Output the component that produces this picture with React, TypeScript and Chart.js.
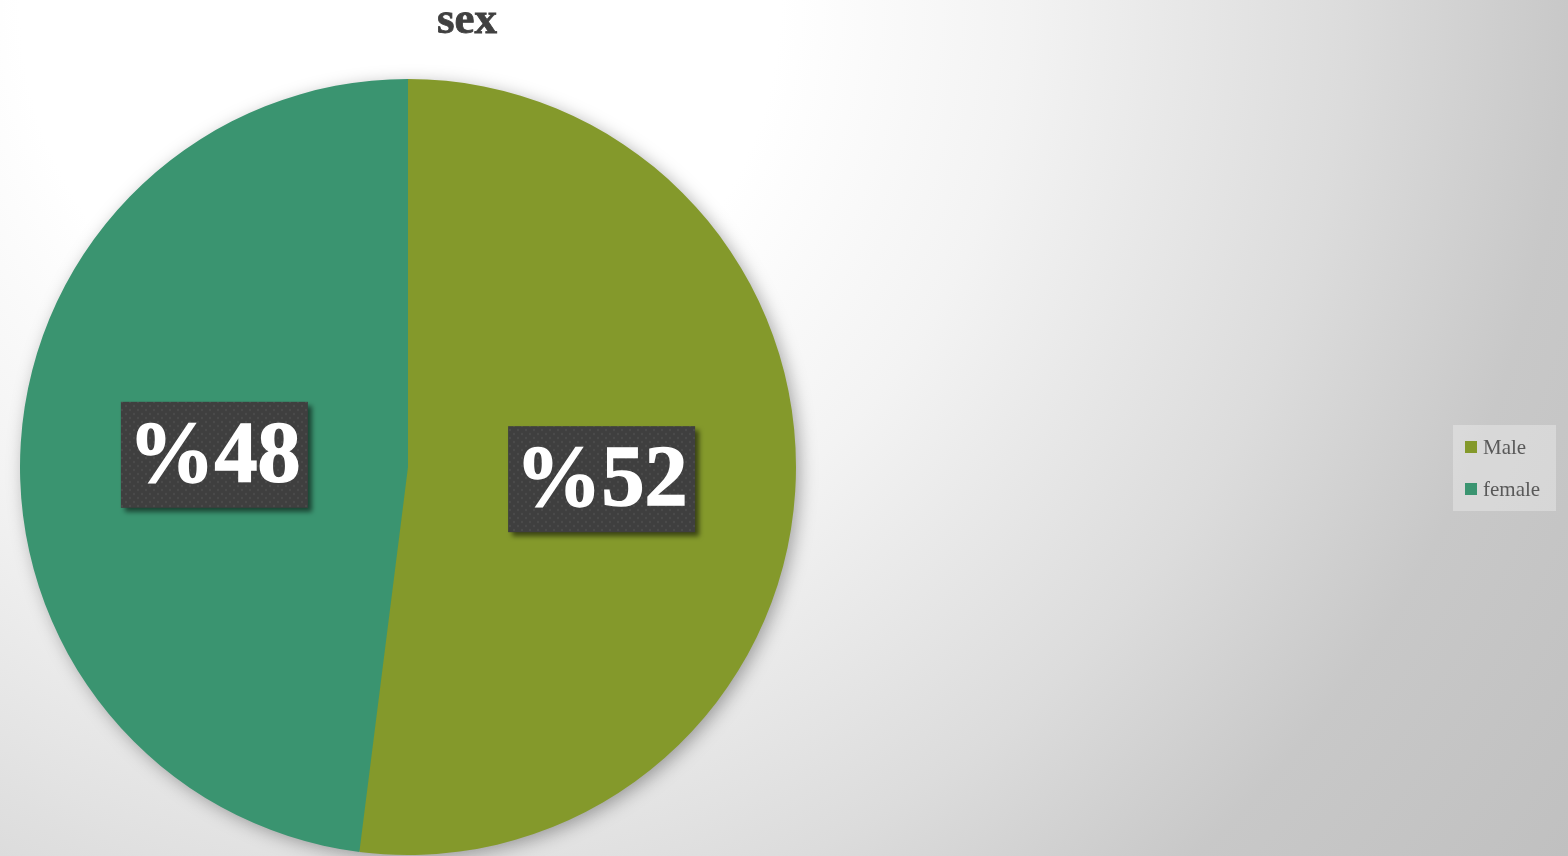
import React, { useEffect, useRef } from "react";
import { Chart, registerables } from "chart.js";

Chart.register(...registerables);

const categories = ["Male", "female"];
const values = [52, 48];
const valueLabels = ["%52", "%48"];
const colors = ["#84992B", "#3A9470"];
const titleText = "sex";

const W = 1568;
const H = 856;

export default function App() {
  const ref = useRef<HTMLCanvasElement | null>(null);

  useEffect(() => {
    const canvas = ref.current;
    if (!canvas) return;

    const pc = document.createElement("canvas");
    pc.width = 8;
    pc.height = 8;
    const pctx = pc.getContext("2d")!;
    pctx.fillStyle = "#3f3f3f";
    pctx.fillRect(0, 0, 8, 8);
    pctx.fillStyle = "#4b4b4b";
    pctx.beginPath();
    pctx.arc(2, 2, 1.2, 0, Math.PI * 2);
    pctx.fill();
    pctx.beginPath();
    pctx.arc(6, 6, 1.2, 0, Math.PI * 2);
    pctx.fill();

    const decor = {
      id: "decor",
      beforeDatasetsDraw(chart: any) {
        const meta = chart.getDatasetMeta(0);
        const arc = meta.data[0];
        if (!arc) return;
        const { x, y, outerRadius } = arc.getProps(["x", "y", "outerRadius"], true);
        const ctx = chart.ctx;
        ctx.save();
        ctx.shadowColor = "rgba(0,0,0,0.35)";
        ctx.shadowBlur = 18;
        ctx.shadowOffsetX = 4;
        ctx.shadowOffsetY = 4;
        ctx.fillStyle = colors[0];
        ctx.beginPath();
        ctx.arc(x, y, outerRadius - 1, 0, Math.PI * 2);
        ctx.fill();
        ctx.restore();
      },
      afterDatasetsDraw(chart: any) {
        const ctx = chart.ctx;
        const meta = chart.getDatasetMeta(0);
        const pattern = ctx.createPattern(pc, "repeat");
        meta.data.forEach((el: any, i: number) => {
          const p = el.getCenterPoint();
          const bw = 187;
          const bh = 106;
          ctx.save();
          ctx.shadowColor = "rgba(0,0,0,0.55)";
          ctx.shadowBlur = 5;
          ctx.shadowOffsetX = 4;
          ctx.shadowOffsetY = 4;
          ctx.fillStyle = pattern || "#404040";
          ctx.fillRect(p.x - bw / 2, p.y - bh / 2, bw, bh);
          ctx.restore();
          ctx.save();
          ctx.fillStyle = "#ffffff";
          ctx.strokeStyle = "#ffffff";
          ctx.lineWidth = 1.5;
          ctx.font = "bold 86px 'Liberation Serif', 'Times New Roman', serif";
          ctx.textAlign = "center";
          ctx.textBaseline = "middle";
          ctx.fillText(valueLabels[i], p.x, p.y + 4);
          ctx.strokeText(valueLabels[i], p.x, p.y + 4);
          ctx.restore();
        });

        ctx.save();
        ctx.fillStyle = "#404040";
        ctx.strokeStyle = "#404040";
        ctx.lineWidth = 0.8;
        ctx.font = "bold 45px 'Liberation Serif', 'Times New Roman', serif";
        ctx.textAlign = "center";
        ctx.textBaseline = "alphabetic";
        ctx.fillText(titleText, 467, 33);
        ctx.strokeText(titleText, 467, 33);
        ctx.restore();

        ctx.save();
        ctx.fillStyle = "rgba(255,255,255,0.3)";
        ctx.fillRect(1453, 425, 103, 86);
        ctx.font = "21px 'Liberation Serif', 'Times New Roman', serif";
        ctx.textBaseline = "middle";
        ctx.textAlign = "left";
        categories.forEach((c, i) => {
          const cy = 447 + i * 42;
          ctx.fillStyle = colors[i];
          ctx.fillRect(1465, cy - 6, 12, 12);
          ctx.fillStyle = "#595959";
          ctx.fillText(c, 1483, cy + 1);
        });
        ctx.restore();
      },
    };

    const chart = new Chart(canvas, {
      type: "pie",
      data: {
        labels: categories,
        datasets: [
          {
            data: values,
            backgroundColor: colors,
            borderWidth: 0,
          },
        ],
      },
      options: {
        responsive: false,
        animation: false,
        layout: {
          padding: { left: 20, right: W - 796, top: 79, bottom: 1 },
        },
        plugins: {
          legend: { display: false },
          title: { display: false },
          tooltip: { enabled: false },
        },
      },
      plugins: [decor],
    });

    return () => chart.destroy();
  }, []);

  return (
    <div
      style={{
        position: "fixed",
        left: 0,
        top: 0,
        width: W,
        height: H,
        overflow: "hidden",
        background:
          "radial-gradient(circle 1450px at 400px 0px, #ffffff 0px, #ffffff 380px, #f3f3f3 620px, #dcdcdc 945px, #c8c8c8 1168px, #c0c0c0 1450px)",
      }}
    >
      <canvas ref={ref} width={W} height={H} style={{ display: "block", width: W, height: H }} />
    </div>
  );
}
